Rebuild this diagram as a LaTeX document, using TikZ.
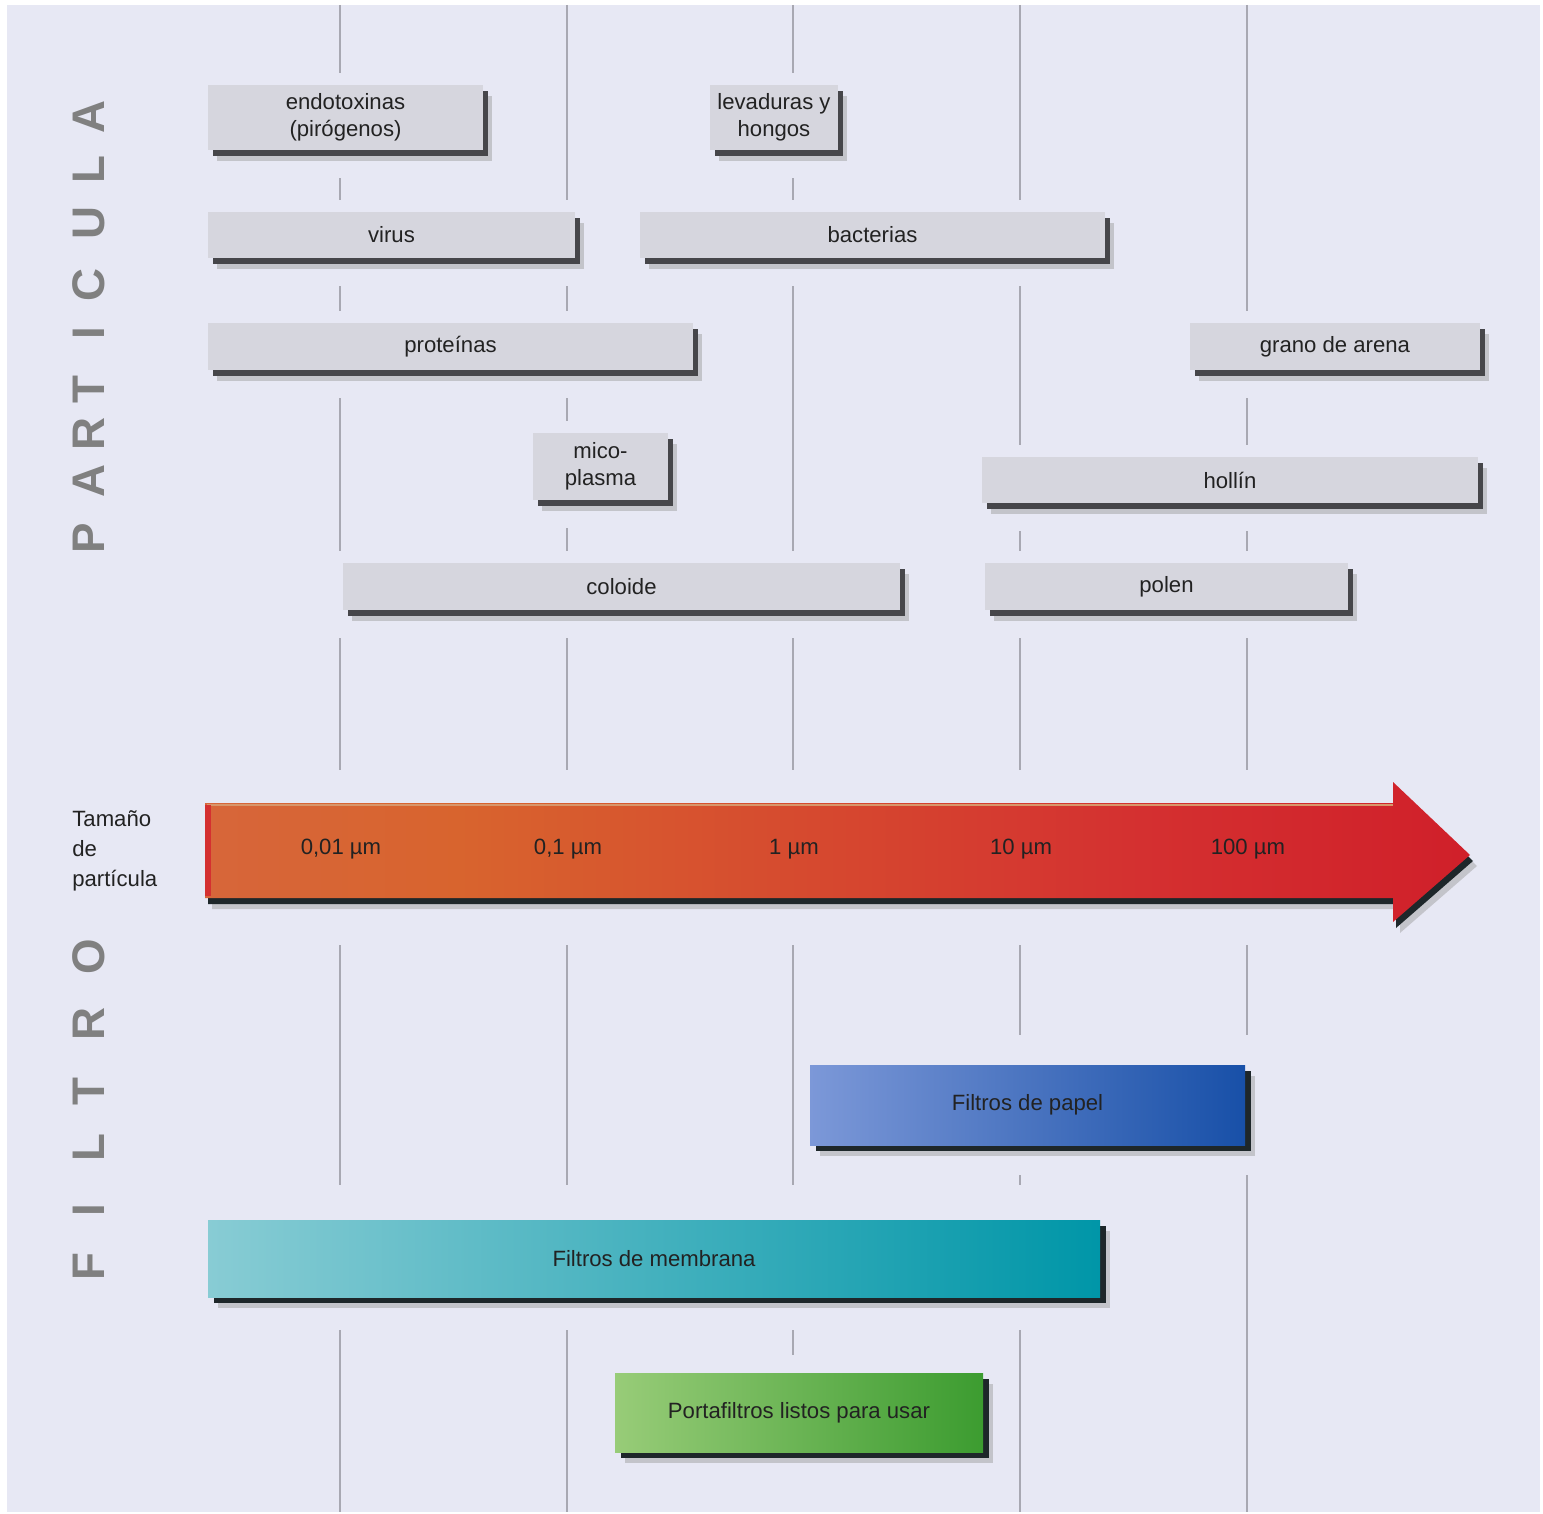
\documentclass[tikz,border=0pt]{standalone}
\usepackage{fontspec}
\setmainfont{Liberation Sans}
\usetikzlibrary{shadows}

\pgfdeclarelayer{grid}
\pgfdeclarelayer{halo}
\pgfsetlayers{grid,halo,main}

\definecolor{bgcol}{HTML}{E7E8F4}
\definecolor{gridcol}{HTML}{A8A8B2}
\definecolor{boxface}{HTML}{D6D6DE}
\definecolor{boxedge}{HTML}{46464A}
\definecolor{txtcol}{HTML}{222222}
\definecolor{sidecol}{HTML}{808080}
\definecolor{arrA}{HTML}{D46A58}
\definecolor{arrB}{HTML}{D8642E}
\definecolor{arrC}{HTML}{D43030}
\definecolor{arrD}{HTML}{C8001E}
\definecolor{arrtop}{HTML}{D8966A}
\definecolor{filtedge}{HTML}{1E272A}
\definecolor{papelA}{HTML}{7C98D8}
\definecolor{papelB}{HTML}{1850A8}
\definecolor{membA}{HTML}{88CCD4}
\definecolor{membB}{HTML}{0096A8}
\definecolor{portaA}{HTML}{98CC78}
\definecolor{portaB}{HTML}{3C9C30}

\pgfdeclarehorizontalshading{sizeshade}{100bp}{color(0bp)=(arrA); color(35bp)=(arrB); color(62bp)=(arrC); color(100bp)=(arrD)}

\begin{document}
\begin{tikzpicture}[x=0.02cm,y=-0.02cm,
  every node/.style={font=\fontsize{12.6pt}{15.4pt}\selectfont, text=txtcol},
  gridline/.style={gridcol, line width=1.1pt},
  boxsize/.style 2 args={minimum width=#1*0.02cm, minimum height=#2*0.02cm},
  partbox/.style={fill=boxface, align=center, inner sep=0pt,
    general shadow={fill=black!40, fill opacity=0.45, shadow xshift=5pt, shadow yshift=-6.2pt},
    general shadow={fill=boxedge, shadow xshift=3pt, shadow yshift=-3.2pt}},
  filtbox/.style={inner sep=0pt,
    general shadow={fill=black!40, fill opacity=0.45, shadow xshift=5.5pt, shadow yshift=-6.5pt},
    general shadow={fill=filtedge, shadow xshift=3.2pt, shadow yshift=-3.6pt}},
  sideletter/.style={font=\fontsize{26pt}{26pt}\selectfont\bfseries, text=sidecol, rotate=90, inner sep=0pt}]

\useasboundingbox (0,0) rectangle (1543,1514);

% fondo y lineas de escala
\begin{pgfonlayer}{grid}
\fill[bgcol] (7,5) rectangle (1540,1512);
\foreach \x in {340,567,793,1020,1247}
  \draw[gridline] (\x,5) -- (\x,1512);
\end{pgfonlayer}

% particulas
\node[partbox, boxsize={275}{65}] (endo) at (345.5,117.5) {endotoxinas\\(pirógenos)};
\node[partbox, boxsize={128}{65}] (leva) at (774,117.5) {levaduras y\\hongos};
\node[partbox, boxsize={367}{46}] (virus) at (391.5,235) {virus};
\node[partbox, boxsize={465}{46}] (bact) at (872.5,235) {bacterias};
\node[partbox, boxsize={485}{47}] (prot) at (450.5,346.5) {proteínas};
\node[partbox, boxsize={290}{47}] (arena) at (1335,346.5) {grano de arena};
\node[partbox, boxsize={135}{67}] (mico) at (600.5,466.5) {mico-\\plasma};
\node[partbox, boxsize={496}{46}] (hollin) at (1230,480) {hollín};
\node[partbox, boxsize={557}{47}] (coloide) at (621.5,586.5) {coloide};
\node[partbox, boxsize={363}{47}] (polen) at (1166.5,586.5) {polen};

% flecha de tamano
\fill[black!40, fill opacity=0.45, shift={(7,11)}] (205,803) -- (1393,803) -- (1393,782) -- (1470,855) -- (1393,922) -- (1393,898) -- (205,898) -- cycle;
\fill[filtedge, shift={(3,6)}] (205,803) -- (1393,803) -- (1393,782) -- (1470,855) -- (1393,922) -- (1393,898) -- (205,898) -- cycle;
\shade[shading=sizeshade] (205,803) -- (1393,803) -- (1393,782) -- (1470,855) -- (1393,922) -- (1393,898) -- (205,898) -- cycle;
\draw[arrtop, line width=1.7pt] (207,805) -- (1393,805);
\fill[arrC] (205,805) rectangle (211,896);

\foreach \x/\lbl [count=\i] in {340/{0,01 µm},567/{0,1 µm},793/{1 µm},1020/{10 µm},1247/{100 µm}}
  \node (tick\i) at ({\x+1},849) {\lbl};

\node[anchor=west, align=left, inner sep=0pt, font=\fontsize{12.6pt}{17pt}\selectfont] (tamano) at (72,851) {Tamaño\\de\\partícula};

% filtros
\node[filtbox, boxsize={435}{80}, left color=papelA, right color=papelB] (papel) at (1027.5,1105) {Filtros de papel};
\node[filtbox, boxsize={892}{77}, left color=membA, right color=membB] (membrana) at (654,1258.5) {Filtros de membrana};
\node[filtbox, boxsize={368}{79}, left color=portaA, right color=portaB] (porta) at (799,1412.5) {Portafiltros listos para usar};

% textos laterales
\foreach \l/\y [count=\i] in {P/538,A/481,R/434,T/390,I/333,C/285,U/223,L/170,A/117}
  \node[sideletter] (part\i) at (89,\y) {\l};
\foreach \l/\y [count=\i] in {F/1267,I/1210,L/1148,T/1092,R/1024,O/957}
  \node[sideletter] (filt\i) at (89,\y) {\l};

% huecos de las lineas
\begin{pgfonlayer}{halo}
\foreach \n in {endo,leva,virus,bact,prot,arena,mico,hollin,coloide,polen}
  \fill[bgcol] ([shift={(-6,-12)}]\n.north west) rectangle ([shift={(6,28)}]\n.south east);
\foreach \n/\mtop/\mbot in {papel/30/30,membrana/35/33,porta/18/60}
  \fill[bgcol] ([shift={(-6,-\mtop)}]\n.north west) rectangle ([shift={(6,\mbot)}]\n.south east);
\fill[bgcol] (195,770) rectangle (1480,945);
\end{pgfonlayer}

\end{tikzpicture}
\end{document}
